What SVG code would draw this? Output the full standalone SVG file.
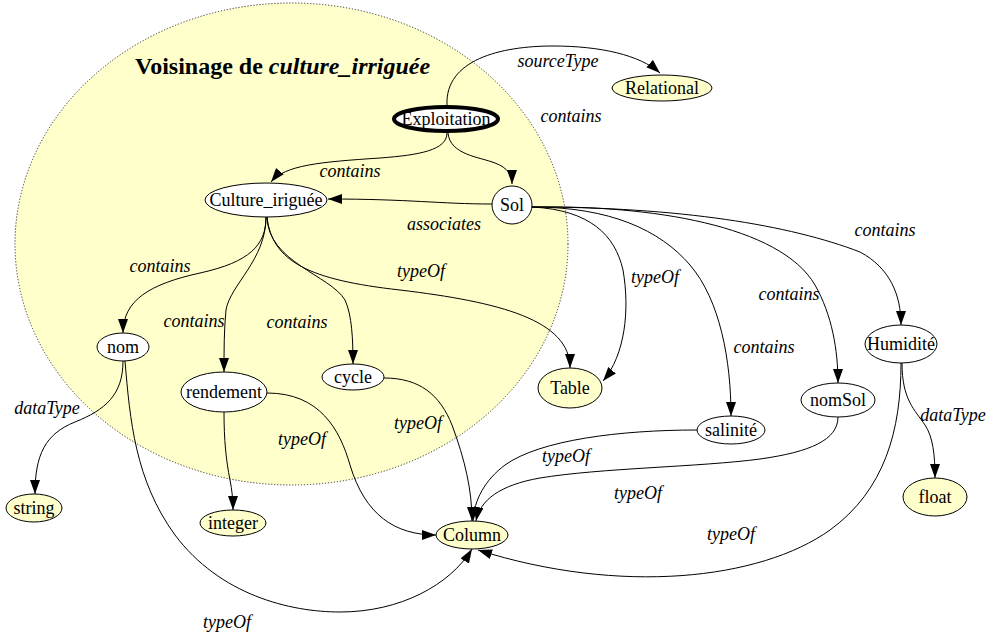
<svg xmlns="http://www.w3.org/2000/svg" width="988" height="637" viewBox="0 0 988 637">
  <style>
    .node ellipse { stroke: #000; stroke-width: 1; }
    .inner { fill: #ffffff; }
    .type { fill: #ffffcc; }
    .nlabel { font-family: "Liberation Serif", "Times New Roman", serif; font-size: 18px; text-anchor: middle; fill: #000; }
    .elabel { font-family: "Liberation Serif", "Times New Roman", serif; font-size: 18px; font-style: italic; text-anchor: middle; fill: #000; }
    .edge { fill: none; stroke: #000; stroke-width: 1; marker-end: url(#arrow); }
    .title { font-family: "Liberation Serif", "Times New Roman", serif; font-size: 24px; font-weight: bold; fill: #000; }
  </style>
  <defs>
    <marker id="arrow" viewBox="0 0 14 10" refX="14" refY="5" markerWidth="14" markerHeight="10" markerUnits="userSpaceOnUse" orient="auto">
      <path d="M0,0 L14,5 L0,10 z" fill="#000"/>
    </marker>
  </defs>
  <rect width="988" height="637" fill="#ffffff"/>

  <!-- neighbourhood area -->
  <g id="neighbourhood">
    <ellipse cx="291.5" cy="244" rx="276.5" ry="241" fill="#ffffcc" stroke="#333" stroke-width="1" stroke-dasharray="1.2,1.8"/>
    <text class="title" x="135" y="74">Voisinage de <tspan font-style="italic">culture_irriguée</tspan></text>
  </g>

  <!-- connectors -->
  <g id="edges">
    <path class="edge" d="M447,105 C445,60 500,46 553,46 C600,46 640,55 660,73"/>
    <path class="edge" d="M447,133 C447,150 420,155 380,158 C320,162 285,165 271,182"/>
    <path class="edge" d="M448,133 C450,155 480,157 495,163 C508,168 512,175 512,184"/>
    <path class="edge" d="M492,204 C440,204 410,199 328,199"/>
    <path class="edge" d="M266,217 C266,245 250,262 200,273 C150,284 123,300 123,333"/>
    <path class="edge" d="M266,217 C266,260 230,285 226,310 C224,330 224,350 224,372"/>
    <path class="edge" d="M267,217 C268,262 330,275 345,300 C352,315 353,340 353,364"/>
    <path class="edge" d="M267,217 C272,262 310,280 400,290 C500,302 570,320 570,368"/>
    <path class="edge" d="M532,207 C590,210 615,235 623,270 C630,310 625,355 603,381"/>
    <path class="edge" d="M532,207 C610,207 660,230 690,265 C720,300 731,360 731,416"/>
    <path class="edge" d="M532,207 C650,205 780,225 815,285 C832,315 838,350 838,383"/>
    <path class="edge" d="M532,207 C680,207 790,225 860,252 C890,268 901,295 901,325"/>
    <path class="edge" d="M123,361 C123,395 105,410 75,422 C45,434 35,455 35,494"/>
    <path class="edge" d="M125,361 C130,420 135,480 175,535 C220,595 290,612 340,612 C400,612 450,585 472,549"/>
    <path class="edge" d="M224,412 C224,440 226,460 230,480 C232,490 233,500 233,510"/>
    <path class="edge" d="M267,393 C320,393 340,430 350,465 C365,515 395,535 436,535"/>
    <path class="edge" d="M384,378 C420,378 440,395 452,425 C465,460 472,490 472,521"/>
    <path class="edge" d="M697,430 C620,430 540,440 505,465 C485,480 474,500 473,521"/>
    <path class="edge" d="M838,417 C838,440 810,452 760,459 C700,467 600,468 540,478 C500,485 480,500 476,521"/>
    <path class="edge" d="M901,363 C901,430 885,490 830,530 C760,580 620,595 478,550"/>
    <path class="edge" d="M902,363 C902,400 915,410 925,425 C933,437 935,455 935,478"/>

    <text class="elabel" x="558" y="67">sourceType</text>
    <text class="elabel" x="571" y="122">contains</text>
    <text class="elabel" x="350" y="177">contains</text>
    <text class="elabel" x="444" y="230">associates</text>
    <text class="elabel" x="421" y="277">typeOf</text>
    <text class="elabel" x="160" y="272">contains</text>
    <text class="elabel" x="194" y="327">contains</text>
    <text class="elabel" x="297" y="328">contains</text>
    <text class="elabel" x="47" y="414">dataType</text>
    <text class="elabel" x="302" y="445">typeOf</text>
    <text class="elabel" x="418" y="429">typeOf</text>
    <text class="elabel" x="227" y="628">typeOf</text>
    <text class="elabel" x="655" y="283">typeOf</text>
    <text class="elabel" x="764" y="353">contains</text>
    <text class="elabel" x="789" y="300">contains</text>
    <text class="elabel" x="885" y="236">contains</text>
    <text class="elabel" x="953" y="421">dataType</text>
    <text class="elabel" x="566" y="462">typeOf</text>
    <text class="elabel" x="638" y="499">typeOf</text>
    <text class="elabel" x="731" y="540">typeOf</text>
  </g>

  <!-- nodes -->
  <g id="node-exploitation" class="node">
    <ellipse cx="446" cy="119" rx="52" ry="12" class="inner" style="stroke-width:4"/>
    <text class="nlabel" x="446" y="125">Exploitation</text>
  </g>
  <g id="node-relational" class="node">
    <ellipse cx="662" cy="88" rx="50" ry="13" class="type"/>
    <text class="nlabel" x="662" y="94">Relational</text>
  </g>
  <g id="node-culture" class="node">
    <ellipse cx="266" cy="200" rx="61" ry="17" class="inner"/>
    <text class="nlabel" x="266" y="206">Culture_iriguée</text>
  </g>
  <g id="node-sol" class="node">
    <ellipse cx="512" cy="205" rx="20" ry="19" class="inner"/>
    <text class="nlabel" x="512" y="211">Sol</text>
  </g>
  <g id="node-nom" class="node">
    <ellipse cx="123" cy="347" rx="26" ry="14" class="inner"/>
    <text class="nlabel" x="123" y="353">nom</text>
  </g>
  <g id="node-rendement" class="node">
    <ellipse cx="224" cy="392" rx="43" ry="20" class="inner"/>
    <text class="nlabel" x="224" y="398">rendement</text>
  </g>
  <g id="node-cycle" class="node">
    <ellipse cx="353" cy="377" rx="31" ry="13" class="inner"/>
    <text class="nlabel" x="353" y="383">cycle</text>
  </g>
  <g id="node-table" class="node">
    <ellipse cx="570" cy="388" rx="32" ry="20" class="type"/>
    <text class="nlabel" x="570" y="394">Table</text>
  </g>
  <g id="node-salinite" class="node">
    <ellipse cx="731" cy="430" rx="34" ry="14" class="inner"/>
    <text class="nlabel" x="731" y="436">salinité</text>
  </g>
  <g id="node-nomsol" class="node">
    <ellipse cx="838" cy="400" rx="37" ry="17" class="inner"/>
    <text class="nlabel" x="838" y="406">nomSol</text>
  </g>
  <g id="node-humidite" class="node">
    <ellipse cx="901" cy="344" rx="36" ry="19" class="inner"/>
    <text class="nlabel" x="901" y="350">Humidité</text>
  </g>
  <g id="node-float" class="node">
    <ellipse cx="935" cy="497" rx="32" ry="19" class="type"/>
    <text class="nlabel" x="935" y="503">float</text>
  </g>
  <g id="node-string" class="node">
    <ellipse cx="34" cy="508" rx="28" ry="14" class="type"/>
    <text class="nlabel" x="34" y="514">string</text>
  </g>
  <g id="node-integer" class="node">
    <ellipse cx="233" cy="523" rx="33" ry="13" class="type"/>
    <text class="nlabel" x="233" y="529">integer</text>
  </g>
  <g id="node-column" class="node">
    <ellipse cx="472" cy="535" rx="36" ry="14" class="type"/>
    <text class="nlabel" x="472" y="541">Column</text>
  </g>
</svg>
